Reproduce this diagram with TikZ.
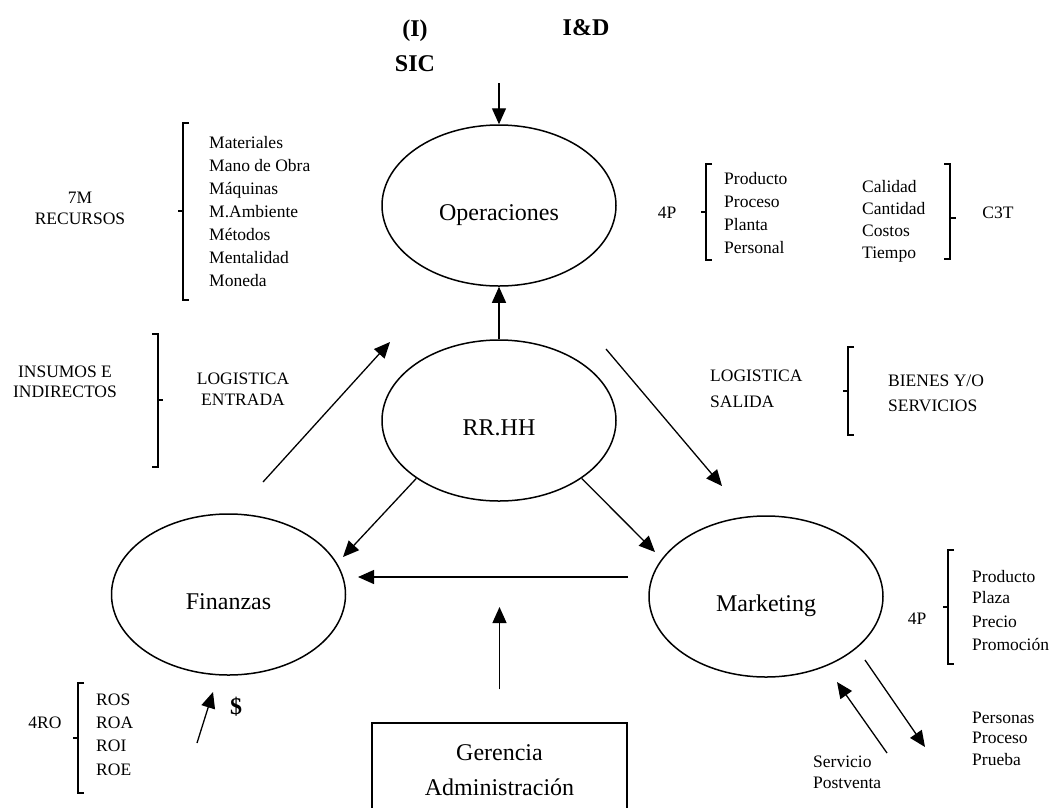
\documentclass[tikz,border=0pt]{standalone}
\usepackage{fontspec}
\setmainfont{Liberation Serif}
\usetikzlibrary{shapes.geometric,arrows.meta}
\newcommand\fsz[1]{\fontsize{#1pt}{#1pt}\selectfont}
\begin{document}
\begin{tikzpicture}[x=1pt,y=-1pt,
  ell/.style={draw, ellipse, line width=1.5pt, minimum width=234pt, minimum height=161pt,
    inner sep=0pt, font=\fsz{24}, text height=30pt, text depth=0pt},
  arr/.style={-{Triangle[length=16pt,width=14pt]}, line width=1.3pt},
  brk/.style={line width=1.4pt},
  itm/.style={anchor=base west, inner sep=0pt, font=\fsz{17.5}},
  ctr/.style={anchor=base, inner sep=0pt, font=\fsz{17.5}},
  bld/.style={anchor=base, inner sep=0pt, font=\fsz{24}\bfseries}]
\useasboundingbox (0,0) rectangle (1053,807);

% main nodes
\node[ell] (ope) at (499,205.5) {Operaciones};
\node[ell] (rr)  at (499,420.5) {RR.HH};
\node[ell] (fin) at (228.5,594.5) {Finanzas};
\node[ell] (mkt) at (766,596.5) {Marketing};
\node[draw, line width=1.5pt, minimum width=255pt, minimum height=95pt, inner sep=0pt,
  align=center, font=\fontsize{24pt}{35pt}\selectfont] (ger) at (499.5,770.5)
  {Gerencia\\Administración};

% top labels
\node[bld] (ipar) at (415,36) {(I)};
\node[bld] (sic)  at (415,71) {SIC};
\node[bld] (iyd)  at (586,35) {I\&D};
\node[bld] (dol)  at (236,714) {\$};

% free ends
\coordinate (topin) at (499,83);
\coordinate (leA) at (263,482);  \coordinate (leB) at (390,342);
\coordinate (lsA) at (606,349);  \coordinate (lsB) at (722,486);
\coordinate (rfB) at (343,557);
\coordinate (rmB) at (655,552);
\coordinate (mfA) at (628,577);  \coordinate (mfB) at (358,577);
\coordinate (gB)  at (499.5,607);
\coordinate (dA)  at (197,743);  \coordinate (dB) at (213,692);
\coordinate (ppA) at (865,660);  \coordinate (ppB) at (925,747);
\coordinate (spA) at (887,753);  \coordinate (spB) at (837,682);

% connectors
\draw[arr] (topin) -- (ope.north);
\draw[arr] (rr.north) -- (ope.south);
\draw[arr] (leA) -- (leB);
\draw[arr] (lsA) -- (lsB);
\draw[arr] (rr.215) -- (rfB);
\draw[arr] (rr.325) -- (rmB);
\draw[arr] (mfA) -- (mfB);
\draw[arr, shorten <=33pt] (ger.north) -- (gB);
\draw[arr] (dA) -- (dB);
\draw[arr] (ppA) -- (ppB);
\draw[arr] (spA) -- (spB);

% 7M recursos
\node[ctr] (m7) at (80,203) {7M};
\node[ctr] (rec) at (80,224) {RECURSOS};
\draw[brk] (189,123) -- (183,123) -- (183,300) -- (189,300);
\draw[brk] (183,211) -- (178,211);
\node[itm] (m1) at (209,148) {Materiales};
\node[itm] (m2) at (209,171) {Mano de Obra};
\node[itm] (m3) at (209,194) {Máquinas};
\node[itm] (m4) at (209,217) {M.Ambiente};
\node[itm] (m5) at (209,240) {Métodos};
\node[itm] (m6) at (209,263) {Mentalidad};
\node[itm] (m7b) at (209,286) {Moneda};

% 4P operaciones / C3T
\node[ctr] (p4o) at (667,218) {4P};
\draw[brk] (712,164) -- (706,164) -- (706,260) -- (712,260);
\draw[brk] (706,212) -- (701,212);
\node[itm] (o1) at (724,184) {Producto};
\node[itm] (o2) at (724,207) {Proceso};
\node[itm] (o3) at (724,230) {Planta};
\node[itm] (o4) at (724,253) {Personal};
\node[itm] (c1) at (862,192) {Calidad};
\node[itm] (c2) at (862,214) {Cantidad};
\node[itm] (c3) at (862,236) {Costos};
\node[itm] (c4) at (862,258) {Tiempo};
\draw[brk] (944,164) -- (950,164) -- (950,259) -- (944,259);
\draw[brk] (950,218) -- (956,218);
\node[ctr] (c3t) at (998,218) {C3T};

% logistica entrada
\node[ctr] (ins1) at (65,377) {INSUMOS E};
\node[ctr] (ins2) at (65,397) {INDIRECTOS};
\draw[brk] (152,334) -- (158,334) -- (158,467) -- (152,467);
\draw[brk] (158,400) -- (163,400);
\node[ctr] (le1) at (243,384) {LOGISTICA};
\node[ctr] (le2) at (243,405) {ENTRADA};

% logistica salida
\node[itm] (ls1) at (710,381) {LOGISTICA};
\node[itm] (ls2) at (710,407) {SALIDA};
\draw[brk] (854,347) -- (848,347) -- (848,435) -- (854,435);
\draw[brk] (848,391) -- (843,391);
\node[itm] (bs1) at (888,386) {BIENES Y/O};
\node[itm] (bs2) at (888,411) {SERVICIOS};

% 4P marketing
\node[ctr] (p4m) at (917,624) {4P};
\draw[brk] (954,550) -- (948,550) -- (948,664) -- (954,664);
\draw[brk] (948,607) -- (943,607);
\node[itm] (k1) at (972,582) {Producto};
\node[itm] (k2) at (972,603) {Plaza};
\node[itm] (k3) at (972,627) {Precio};
\node[itm] (k4) at (972,650) {Promoción};
\node[itm] (q1) at (972,723) {Personas};
\node[itm] (q2) at (972,743) {Proceso};
\node[itm] (q3) at (972,765) {Prueba};
\node[itm] (sv1) at (813,767) {Servicio};
\node[itm] (sv2) at (813,788) {Postventa};

% 4RO
\node[ctr] (ro) at (45,728) {4RO};
\draw[brk] (84,683) -- (78,683) -- (78,793) -- (84,793);
\draw[brk] (78,738) -- (73,738);
\node[itm] (r1) at (96,705) {ROS};
\node[itm] (r2) at (96,728) {ROA};
\node[itm] (r3) at (96,751) {ROI};
\node[itm] (r4) at (96,775) {ROE};
\end{tikzpicture}
\end{document}
